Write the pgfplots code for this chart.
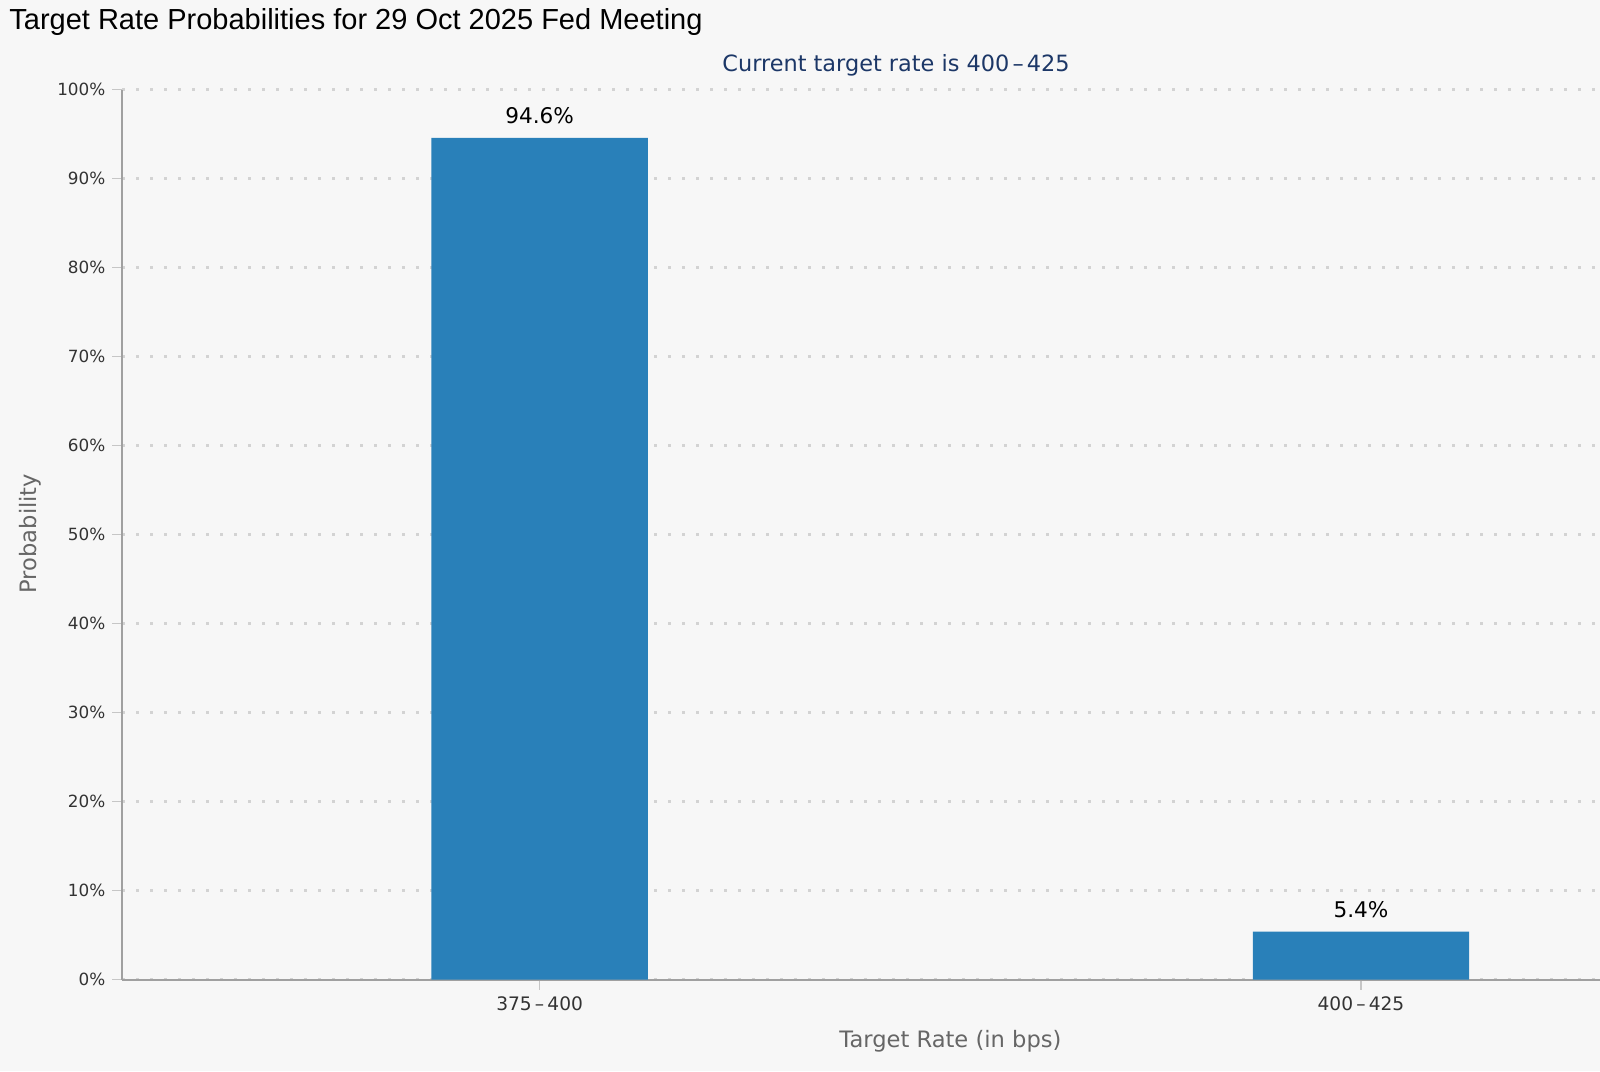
\documentclass[border=0pt]{standalone}
\usepackage{pgfplots}
\pgfplotsset{compat=1.18}
\usepackage{fontspec}
\setmainfont{DejaVu Sans}
\newfontfamily\titlefont{Liberation Sans}
\definecolor{bg}{HTML}{F7F7F7}
\definecolor{barblue}{HTML}{2980B9}
\definecolor{axisgray}{HTML}{A0A0A0}
\definecolor{gridgray}{HTML}{D3D3D3}
\definecolor{ticktext}{HTML}{333333}
\definecolor{labelgray}{HTML}{666666}
\definecolor{navy}{HTML}{1C3767}
\newcommand{\dsh}{\kern1.6pt–\kern1.6pt}
\begin{document}
\begin{tikzpicture}
\fill[bg] (0,0) rectangle (800pt,535.5pt);
\useasboundingbox (0,0) rectangle (800pt,535.5pt);
\node[anchor=base west,inner sep=0pt,font=\titlefont\fontsize{14.5}{17}\selectfont] at (4.5pt,520.5pt) {Target Rate Probabilities for 29 Oct 2025 Fed Meeting};
\begin{axis}[
  at={(61.2pt,45.7pt)}, anchor=south west,
  scale only axis, width=738.8pt, height=444.9pt,
  xmin=-0.508, xmax=1.291, ymin=0, ymax=100,
  axis x line*=bottom, axis y line*=left,
  axis line style={draw=axisgray, line width=1pt},
  xtick={0,1}, xticklabels={375\dsh400,400\dsh425},
  ytick={0,10,...,100},
  yticklabel={\pgfmathprintnumber{\tick}\%},
  /pgf/number format/assume math mode=true,
  tick align=outside, major tick length=5pt,
  tick style={draw=axisgray!60, line width=0.6pt},
  yticklabel style={font=\fontsize{8.4}{10}\selectfont, text=ticktext},
  xticklabel style={font=\fontsize{9.3}{11}\selectfont, text=ticktext},
  ymajorgrids, grid style={draw=gridgray, line width=1.4pt, dash pattern=on 1.4pt off 5.6pt},
  ylabel={Probability}, xlabel={Target Rate (in bps)},
  label style={font=\fontsize{11.3}{13}\selectfont, text=labelgray},
  ylabel style={at={(axis description cs:-0.0621,0.5012)}, anchor=center},
  xlabel style={at={(axis description cs:0.5604,-0.0688)}, anchor=center},
  ybar, bar width=0.2634,
  nodes near coords={\pgfmathprintnumber[fixed,precision=1]{\pgfplotspointmeta}\%},
  every node near coord/.append style={font=\fontsize{10.8}{13}\selectfont, text=black, yshift=3.5pt},
  clip=false,
]
\addplot[fill=barblue, draw=none] coordinates {(0,94.6) (1,5.4)};
\node[anchor=base, font=\fontsize{11.2}{13}\selectfont, text=navy] at (axis description cs:0.5236,1.0207) {Current target rate is 400\dsh425};
\end{axis}
\end{tikzpicture}
\end{document}
